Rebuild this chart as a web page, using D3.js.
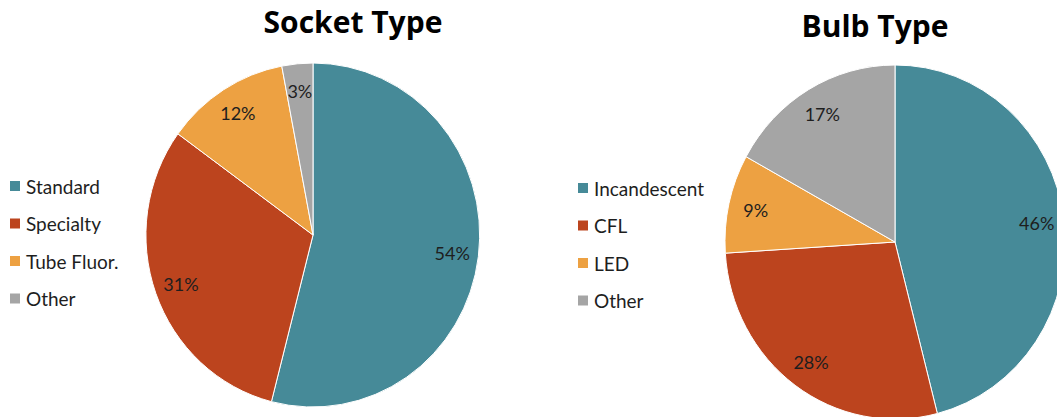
<!DOCTYPE html>
<html>
<head>
<meta charset="utf-8">
<script src="https://cdn.jsdelivr.net/npm/d3@7"></script>
<style>
  html, body { margin: 0; padding: 0; background: #fff; }
  svg { display: block; }
</style>
</head>
<body>
<svg id="chart" width="1057" height="417"></svg>
<script>
// Socket type shares (%)
const socketCategories = ["Standard", "Specialty", "Tube Fluor.", "Other"];
const socketValues = [54, 31, 12, 3];

// Bulb type shares (%)
const bulbCategories = ["Incandescent", "CFL", "LED", "Other"];
const bulbValues = [46, 28, 9, 17];

const sliceColors = ["#468A98", "#BC441E", "#EDA142", "#A5A5A5"];

const svg = d3.select("#chart");
const font = "Lato, 'Open Sans', sans-serif";
const titleFont = "'Open Sans', Lato, sans-serif";

function drawPie(cfg) {
  const data = cfg.categories.map((c, i) => ({ name: c, value: cfg.values[i] }));
  const color = d3.scaleOrdinal().domain(cfg.categories).range(sliceColors);
  const pie = d3.pie().value(d => d.value).sort(null);
  const arcs = pie(data);

  // unit arc, stretched to the pie's own width/height
  const arc = d3.arc().innerRadius(0).outerRadius(1);
  const labelArc = d3.arc().innerRadius(cfg.labelR).outerRadius(cfg.labelR);

  const g = svg.append("g")
    .attr("transform", `translate(${cfg.cx},${cfg.cy})`);

  g.append("g")
    .attr("transform", `scale(${cfg.rx},${cfg.ry})`)
    .selectAll("path")
    .data(arcs)
    .join("path")
    .attr("d", arc)
    .attr("fill", d => color(d.data.name))
    .attr("stroke", "#ffffff")
    .attr("stroke-width", 1)
    .attr("vector-effect", "non-scaling-stroke");

  g.selectAll("text.pct")
    .data(arcs)
    .join("text")
    .attr("class", "pct")
    .attr("x", d => labelArc.centroid(d)[0] * cfg.rx)
    .attr("y", d => labelArc.centroid(d)[1] * cfg.ry)
    .attr("text-anchor", "middle")
    .attr("dominant-baseline", "central")
    .attr("font-family", font)
    .attr("font-size", 18)
    .attr("fill", "#1e1e1e")
    .text(d => d.data.value + "%");

  // title
  svg.append("text")
    .attr("x", cfg.titleX)
    .attr("y", cfg.titleY)
    .attr("text-anchor", "middle")
    .attr("font-family", titleFont)
    .attr("font-weight", "bold")
    .attr("font-size", 30)
    .attr("fill", "#000")
    .text(cfg.title);

  // legend
  const leg = svg.append("g")
    .attr("transform", `translate(${cfg.legX},${cfg.legY})`);
  const rows = leg.selectAll("g")
    .data(cfg.categories)
    .join("g")
    .attr("transform", (d, i) => `translate(0,${i * cfg.legStep})`);
  rows.append("rect")
    .attr("x", 0).attr("y", -5)
    .attr("width", 10).attr("height", 10)
    .attr("fill", d => color(d));
  rows.append("text")
    .attr("x", 16)
    .attr("y", 0)
    .attr("dominant-baseline", "central")
    .attr("font-family", font)
    .attr("font-size", 19)
    .attr("fill", "#1e1e1e")
    .text(d => d);
}

drawPie({
  categories: socketCategories, values: socketValues, title: "Socket Type",
  cx: 313, cy: 235, rx: 167, ry: 172, labelR: 0.84,
  titleX: 353, titleY: 33,
  legX: 10, legY: 186, legStep: 37.5
});

drawPie({
  categories: bulbCategories, values: bulbValues, title: "Bulb Type",
  cx: 895, cy: 242, rx: 170, ry: 177, labelR: 0.84,
  titleX: 875, titleY: 37,
  legX: 578, legY: 188, legStep: 37.5
});
</script>
</body>
</html>
